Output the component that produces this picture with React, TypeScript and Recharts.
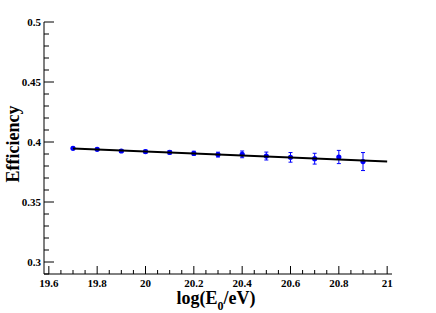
import { ScatterChart, Scatter, XAxis, YAxis, ErrorBar } from 'recharts';

// measured points
const energies = [19.7, 19.8, 19.9, 20.0, 20.1, 20.2, 20.3, 20.4, 20.5, 20.6, 20.7, 20.8, 20.9];
const efficiency = [0.3947, 0.3939, 0.3925, 0.392, 0.3914, 0.3906, 0.3895, 0.3897, 0.3883, 0.3872, 0.3861, 0.3875, 0.3837];
const efficiencyErr = [0.001, 0.001, 0.0012, 0.0013, 0.0015, 0.0017, 0.002, 0.0028, 0.0033, 0.004, 0.0045, 0.0055, 0.0075];

// linear fit end points
const fitX = [19.7, 21.0];
const fitY = [0.3945, 0.3838];

const xTicks = [
  19.6, 19.65, 19.7, 19.75, 19.8, 19.85, 19.9, 19.95, 20.0, 20.05, 20.1, 20.15, 20.2, 20.25, 20.3,
  20.35, 20.4, 20.45, 20.5, 20.55, 20.6, 20.65, 20.7, 20.75, 20.8, 20.85, 20.9, 20.95, 21.0,
];
const yTicks = [
  0.29, 0.3, 0.31, 0.32, 0.33, 0.34, 0.35, 0.36, 0.37, 0.38, 0.39, 0.4, 0.41, 0.42, 0.43, 0.44,
  0.45, 0.46, 0.47, 0.48, 0.49, 0.5,
];

const points = energies.map((x, i) => ({ x, y: efficiency[i], err: efficiencyErr[i] }));
const fitLine = fitX.map((x, i) => ({ x, y: fitY[i] }));

const FONT = '"Liberation Serif", "DejaVu Serif", serif';

function isMultiple(v: number, step: number) {
  const r = v / step;
  return Math.abs(r - Math.round(r)) < 1e-6;
}

function XTick(props: any) {
  const { x, y, payload } = props;
  const major = isMultiple(payload.value, 0.2);
  return (
    <g>
      <line x1={x} x2={x} y1={y} y2={y - (major ? 8 : 4)} stroke="#000" />
      {major && (
        <text x={x} y={y + 13} textAnchor="middle" fontFamily={FONT} fontWeight="bold" fontSize={11} fill="#000">
          {Number(payload.value.toFixed(1)).toString()}
        </text>
      )}
    </g>
  );
}

function YTick(props: any) {
  const { x, y, payload } = props;
  const major = isMultiple(payload.value, 0.05);
  return (
    <g>
      <line x1={x} x2={x + (major ? 10 : 5)} y1={y} y2={y} stroke="#000" />
      {major && (
        <text x={x - 3} y={y + 4} textAnchor="end" fontFamily={FONT} fontWeight="bold" fontSize={11} fill="#000">
          {Number(payload.value.toFixed(2)).toString()}
        </text>
      )}
    </g>
  );
}

function XLabel(props: any) {
  const { viewBox } = props;
  const cx = viewBox.x + viewBox.width / 2 - 2;
  return (
    <text x={cx} y={viewBox.y + 30} textAnchor="middle" fontFamily={FONT} fontWeight="bold" fontSize={18} fill="#000">
      log(E
      <tspan fontSize={12} dy={6}>0</tspan>
      <tspan dy={-6}>/eV)</tspan>
    </text>
  );
}

function YLabel(props: any) {
  const { viewBox } = props;
  const cy = viewBox.y + viewBox.height / 2 - 4;
  return (
    <text
      x={13}
      y={cy}
      transform={`rotate(-90, 13, ${cy})`}
      textAnchor="middle"
      dominantBaseline="central"
      fontFamily={FONT}
      fontWeight="bold"
      fontSize={18}
      fill="#000"
    >
      Efficiency
    </text>
  );
}

export default function App() {
  return (
    <div style={{ position: 'absolute', left: 0, top: 0, background: '#fff' }}>
      <ScatterChart width={436} height={313} margin={{ top: 22, right: 44, bottom: 0, left: 0 }}>
        <XAxis
          type="number"
          dataKey="x"
          domain={[19.58, 21.02]}
          ticks={xTicks}
          interval={0}
          tickSize={0}
          tickMargin={0}
          tickLine={false}
          tick={XTick}
          axisLine={{ stroke: '#000' }}
          height={39}
          allowDataOverflow
          label={XLabel}
        />
        <XAxis
          xAxisId="top"
          orientation="top"
          type="number"
          domain={[19.58, 21.02]}
          height={0}
          tick={false}
          tickLine={false}
          axisLine={{ stroke: '#444' }}
        />
        <YAxis
          type="number"
          dataKey="y"
          domain={[0.29, 0.5]}
          ticks={yTicks}
          interval={0}
          tickSize={0}
          tickMargin={0}
          tickLine={false}
          tick={YTick}
          axisLine={{ stroke: '#000' }}
          width={44}
          allowDataOverflow
          label={YLabel}
        />
        <YAxis
          yAxisId="right"
          orientation="right"
          type="number"
          domain={[0.29, 0.5]}
          width={0}
          tick={false}
          tickLine={false}
          axisLine={{ stroke: '#444' }}
        />
        <Scatter data={points} fill="#0000ff" isAnimationActive={false} shape={(p: any) => <circle cx={p.cx} cy={p.cy} r={2.6} fill="#0000ff" />}>
          <ErrorBar dataKey="err" direction="y" width={2} stroke="#0000ff" strokeWidth={1} isAnimationActive={false} />
        </Scatter>
        <Scatter
          data={fitLine}
          line={{ stroke: '#000', strokeWidth: 2 }}
          shape={() => <g />}
          isAnimationActive={false}
        />
      </ScatterChart>
    </div>
  );
}
